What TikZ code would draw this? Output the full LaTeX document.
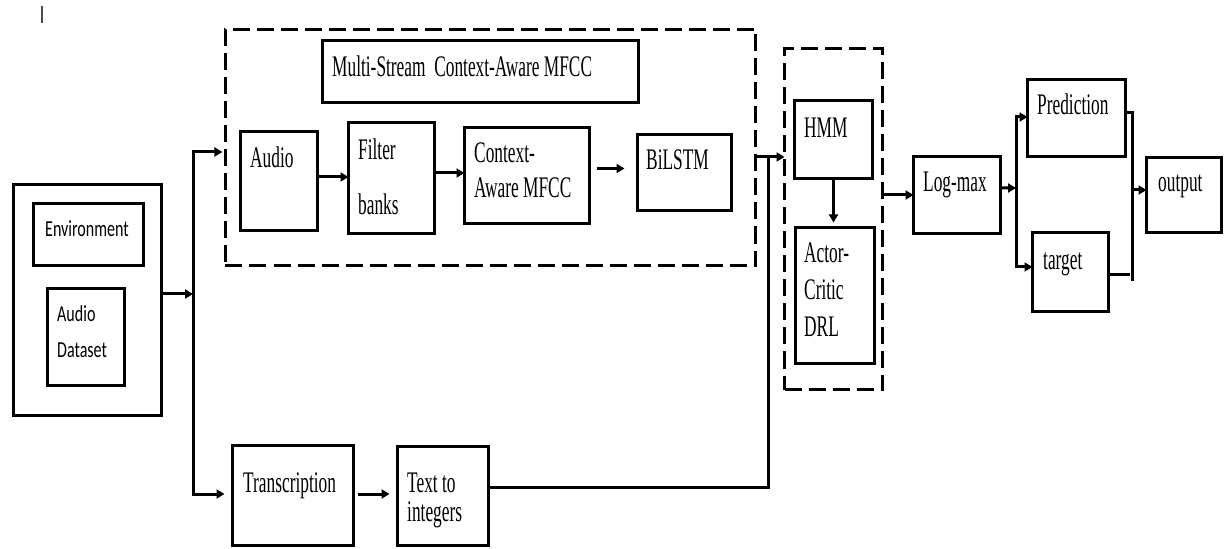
\documentclass[tikz,border=0pt]{standalone}
\usepackage{graphicx}
\usepackage{fontspec}
\setmainfont{Liberation Serif}
\newfontfamily\carl{Carlito}
\usetikzlibrary{arrows.meta,calc}
\newcommand\tm[1]{\scalebox{0.58}[1]{#1}}
\newcommand\tcl[1]{\scalebox{0.7}[1]{#1}}
\newcommand\twol[3]{\vtop{\baselineskip=#1\hbox{#2}\hbox{#3}}}
\newcommand\threel[4]{\vtop{\baselineskip=#1\hbox{#2}\hbox{#3}\hbox{#4}}}
\begin{document}
\begin{tikzpicture}[x=1bp,y=-1bp,
  box/.style={draw, line width=3bp, inner sep=0pt, outer sep=0pt},
  dbox/.style={draw, line width=3bp, dash pattern=on 17bp off 7bp, inner sep=0pt, outer sep=0pt},
  lbl/.style={anchor=base west, inner sep=0pt, font=\fontsize{30}{36}\selectfont},
  lblc/.style={anchor=base west, inner sep=0pt, font=\carl\fontsize{23}{28}\selectfont},
  conn/.style={line width=3bp, line cap=rect},
  arr/.style={line width=3bp, -{Triangle[length=8bp,width=9bp]}}]
\fill[white] (0,0) rectangle (1225,549);
\useasboundingbox (0,0) rectangle (1225,549);
\draw[gray!60!black, line width=2bp] (42,6) -- (42,23);

% boxes
\node[box, minimum width=148bp, minimum height=231bp] (src) at (87.5,300) {};
\node[box, minimum width=110bp, minimum height=62bp] (env) at (88.5,234.5) {};
\node[box, minimum width=77bp, minimum height=97bp] (ads) at (86,337) {};
\node[dbox, minimum width=530bp, minimum height=236bp] (ms) at (490.5,147.5) {};
\node[box, minimum width=316bp, minimum height=62bp] (msc) at (480.5,71.5) {};
\node[box, minimum width=77bp, minimum height=99bp] (audio) at (279,181) {};
\node[box, minimum width=86bp, minimum height=111bp] (filter) at (391.5,178) {};
\node[box, minimum width=125bp, minimum height=96bp] (cam) at (527,175.5) {};
\node[box, minimum width=94bp, minimum height=76bp] (bilstm) at (684.5,172.5) {};
\node[dbox, minimum width=98bp, minimum height=341bp] (rl) at (833.5,219) {};
\node[box, minimum width=78bp, minimum height=78bp] (hmm) at (833.5,139.5) {};
\node[box, minimum width=79bp, minimum height=136bp] (actor) at (835,295.5) {};
\node[box, minimum width=87bp, minimum height=77bp] (lm) at (957,195) {};
\node[box, minimum width=98bp, minimum height=77bp] (pred) at (1076.5,118) {};
\node[box, minimum width=76bp, minimum height=79bp] (tgt) at (1070.5,272) {};
\node[box, minimum width=75bp, minimum height=75bp] (out) at (1184,195) {};
\node[box, minimum width=121bp, minimum height=100bp] (trans) at (293,495.5) {};
\node[box, minimum width=91bp, minimum height=99bp] (txt) at (443,496) {};

% labels
\node[lblc] (env-t) at (45,237) {\tcl{Environment}};
\node[lblc] (ads-t) at (57,322) {\tcl{\twol{36bp}{Audio}{Dataset}}};
\node[lbl] (msc-t) at (332,77) {\tm{Multi-Stream\enspace Context-Aware MFCC}};
\node[lbl] (audio-t) at (250,168) {\tm{Audio}};
\node[lbl] (filter-t) at (358,160) {\tm{\twol{55bp}{Filter}{banks}}};
\node[lbl] (cam-t) at (474,163) {\tm{\twol{35bp}{Context-}{Aware MFCC}}};
\node[lbl] (bilstm-t) at (646,170) {\tm{BiLSTM}};
\node[lbl] (hmm-t) at (804,138) {\tm{HMM}};
\node[lbl] (actor-t) at (804,263) {\tm{\threel{37bp}{Actor-}{Critic}{DRL}}};
\node[lbl] (lm-t) at (923,192) {\tm{Log-max}};
\node[lbl] (pred-t) at (1037,115) {\tm{Prediction}};
\node[lbl] (tgt-t) at (1043,270) {\tm{target}};
\node[lbl] (out-t) at (1158,192) {\tm{output}};
\node[lbl] (trans-t) at (243,492) {\tm{Transcription}};
\node[lbl] (txt-t) at (407,492) {\tm{\twol{29bp}{Text to}{integers}}};

% connectors
\coordinate (s0) at (193,294);
\coordinate (b1) at (193,152);
\coordinate (b2) at (193,494);
\draw[arr] (src.east |- s0) -- (s0);
\draw[conn] (b1) -- (b2);
\draw[arr, shorten >=3bp] (b1) -- (b1 -| ms.west);
\draw[arr, shorten >=8bp] (b2) -- (b2 -| trans.west);

\draw[arr] ([yshift=4bp]audio.east) -- ([yshift=4bp]audio.east -| filter.west);
\draw[arr] ([yshift=5bp]filter.east) -- ([yshift=5bp]filter.east -| cam.west);
\draw[arr, shorten <=7bp, shorten >=13bp] ([yshift=7bp]cam.east) -- ([yshift=7bp]cam.east -| bilstm.west);
\draw[arr, shorten <=7bp, shorten >=8bp] ([xshift=-3bp]trans.east |- b2) -- (b2 -| txt.west);

\coordinate (j) at (768,157);
\draw[conn] (ms.east |- j) -- (j);
\draw[arr] (j) -- (j -| rl.west);
\draw[conn] ([yshift=9bp]txt.east) -| (j);

\draw[arr, shorten >=5bp] (hmm.south) -- (hmm.south |- actor.north);
\draw[arr] (lm.west -| rl.east) -- (lm.west);

\coordinate (k) at (1016,188);
\coordinate (k1) at (1016,117);
\coordinate (k2) at (1016,267);
\draw[arr] ([yshift=7bp]lm.east) -- (k);
\draw[conn] (k1) -- (k2);
\draw[arr] (k1) -- (k1 -| pred.west);
\draw[arr] (k2) -- (k2 -| tgt.west);

\coordinate (m1) at (1132,113);
\coordinate (m2) at (1132,280);
\coordinate (m0) at (1132,190);
\coordinate (m3) at (1132,275);
\draw[conn] (pred.east |- m1) -- (m1) -- (m2);
\draw[conn, shorten >=4bp] (tgt.east |- m3) -- (m3);
\draw[arr] (m0) -- (m0 -| out.west);
\end{tikzpicture}
\end{document}
